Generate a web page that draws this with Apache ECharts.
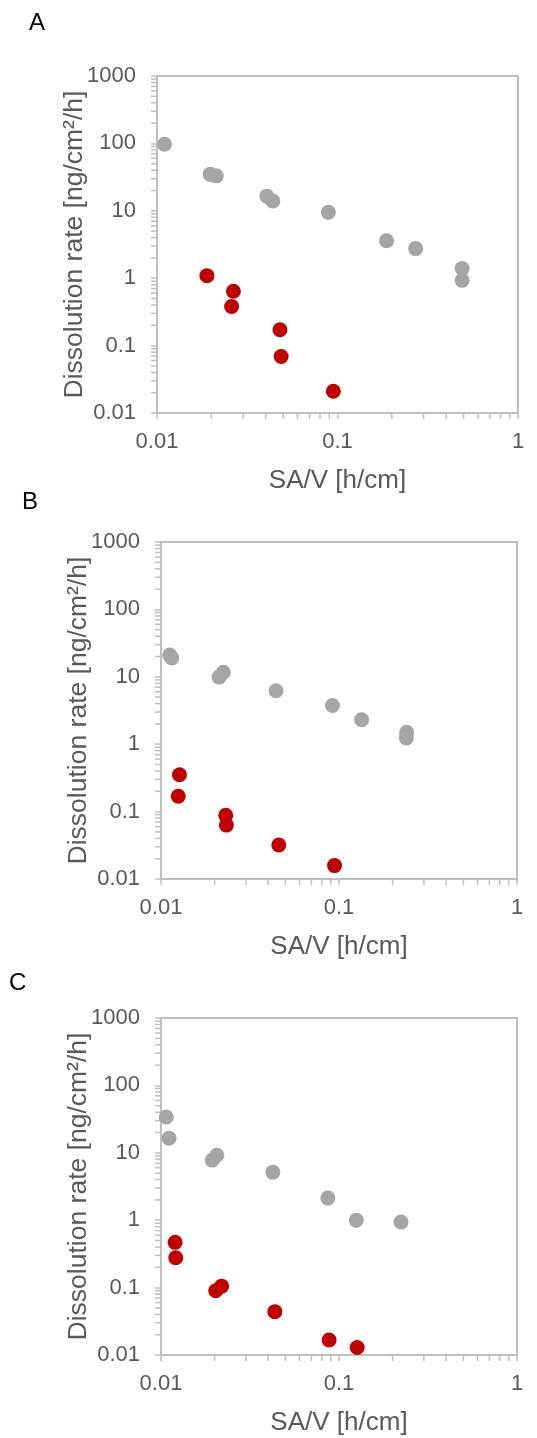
<!DOCTYPE html>
<html>
<head>
<meta charset="utf-8">
<script src="https://cdn.jsdelivr.net/npm/echarts@6/dist/echarts.min.js"></script>
<style>
html,body{margin:0;padding:0;background:#fff;}
#c{width:537px;height:1438px;}
</style>
</head>
<body>
<div id="c"></div>
<script>
// ---- data (SA/V [h/cm], dissolution rate [ng/cm2/h]) ----
const panelLabels = ['A', 'B', 'C'];
const aGray = [[0.011,97],[0.0197,35],[0.0213,33],[0.0406,16.5],[0.0438,14],[0.089,9.5],[0.187,3.6],[0.271,2.75],[0.49,1.39],[0.49,0.93]];
const aRed  = [[0.0189,1.09],[0.0265,0.64],[0.0259,0.38],[0.048,0.172],[0.0487,0.069],[0.0948,0.021]];
const bGray = [[0.0112,21],[0.0115,19],[0.0224,11.7],[0.0212,9.9],[0.0443,6.2],[0.0919,3.76],[0.134,2.3],[0.24,1.5],[0.239,1.24]];
const bRed  = [[0.0127,0.353],[0.0125,0.169],[0.0231,0.088],[0.0233,0.063],[0.0459,0.032],[0.0944,0.0158]];
const cGray = [[0.0107,34],[0.0111,16.5],[0.0194,7.8],[0.0206,9.2],[0.0425,5.16],[0.0866,2.13],[0.125,1.0],[0.223,0.94]];
const cRed  = [[0.012,0.469],[0.0121,0.277],[0.0203,0.09],[0.0219,0.105],[0.0436,0.044],[0.088,0.0167],[0.1265,0.0129]];
const xRange = [0.01, 1];
const yRange = [0.01, 1000];
const xDecades = [0.01, 0.1];
const yDecades = [0.01, 0.1, 1, 10, 100];
const minorSteps = [2,3,4,5,6,7,8,9];
const xTitle = 'SA/V [h/cm]';
const yTitle = 'Dissolution rate [ng/cm²/h]';

const grayData = [aGray, bGray, cGray];
const redData = [aRed, bRed, cRed];

// ---- layout ----
const grids = [
  {left:157, top:76, width:361, height:337},
  {left:161, top:542, width:356, height:337},
  {left:161, top:1018, width:356, height:337}
];
const titlePos = [{left:29, top:11}, {left:22, top:490}, {left:9, top:971}];

const AX = '#BFBFBF';
const TX = '#595959';
const FONT = 'Liberation Sans, Arial, sans-serif';
const fmt = v => String(parseFloat(Number(v).toPrecision(6)));

const xMinor = [];
xDecades.forEach(d => minorSteps.forEach(m => xMinor.push(d*m)));
const yMinor = [];
yDecades.forEach(d => minorSteps.forEach(m => yMinor.push(d*m)));

const option = {
  animation: false,
  backgroundColor: '#fff',
  title: panelLabels.map((t,i) => ({
    text: t, left: titlePos[i].left, top: titlePos[i].top, padding: 0,
    textStyle: {fontFamily: FONT, fontSize: 24, fontWeight: 'normal', color: '#000'}
  })),
  grid: grids.map(g => Object.assign({show:true, borderColor:AX, borderWidth:2, containLabel:false}, g)),
  xAxis: grids.map((g,i) => ({
    type:'log', logBase:10, gridIndex:i, min:xRange[0], max:xRange[1],
    name: xTitle, nameLocation:'middle', nameGap:55,
    nameTextStyle:{fontFamily:FONT, fontSize:26, color:TX},
    axisLine:{show:true, lineStyle:{color:AX, width:2}},
    axisTick:{show:true, inside:false, length:6, lineStyle:{color:AX, width:1.5}},
    axisLabel:{fontFamily:FONT, fontSize:22, color:TX, margin:18, formatter:fmt},
    splitLine:{show:false}
  })),
  yAxis: grids.map((g,i) => ({
    type:'log', logBase:10, gridIndex:i, min:yRange[0], max:yRange[1],
    name: yTitle, nameLocation:'middle', nameGap:69, nameRotate:90, nameMoveOverlap:false,
    nameTextStyle:{fontFamily:FONT, fontSize:26.5, color:TX},
    axisLine:{show:true, lineStyle:{color:AX, width:2}},
    axisTick:{show:true, inside:false, length:6, lineStyle:{color:AX, width:1.5}},
    axisLabel:{fontFamily:FONT, fontSize:22, color:TX, margin:21, formatter:fmt},
    splitLine:{show:false}
  })),
  series: []
};

grids.forEach((g,i) => {
  option.series.push({
    type:'custom', xAxisIndex:i, yAxisIndex:i, silent:true, clip:false, z:1,
    data: xMinor.map(v => [v, yRange[0]]),
    renderItem: (params, api) => {
      const p = api.coord([api.value(0), api.value(1)]);
      return {type:'line', shape:{x1:p[0], y1:p[1], x2:p[0], y2:p[1]+6}, style:{stroke:AX, lineWidth:1.5}};
    }
  });
  option.series.push({
    type:'custom', xAxisIndex:i, yAxisIndex:i, silent:true, clip:false, z:1,
    data: yMinor.map(v => [xRange[0], v]),
    renderItem: (params, api) => {
      const p = api.coord([api.value(0), api.value(1)]);
      return {type:'line', shape:{x1:p[0]-6, y1:p[1], x2:p[0], y2:p[1]}, style:{stroke:AX, lineWidth:1.5}};
    }
  });
  option.series.push({
    type:'scatter', xAxisIndex:i, yAxisIndex:i, data:grayData[i],
    symbol:'circle', symbolSize:15, itemStyle:{color:'#A5A5A5', opacity:1}, z:3
  });
  option.series.push({
    type:'scatter', xAxisIndex:i, yAxisIndex:i, data:redData[i],
    symbol:'circle', symbolSize:15, itemStyle:{color:'#C00000', opacity:1}, z:4
  });
});

const chart = echarts.init(document.getElementById('c'), null, {renderer:'canvas'});
chart.setOption(option);
</script>
</body>
</html>
